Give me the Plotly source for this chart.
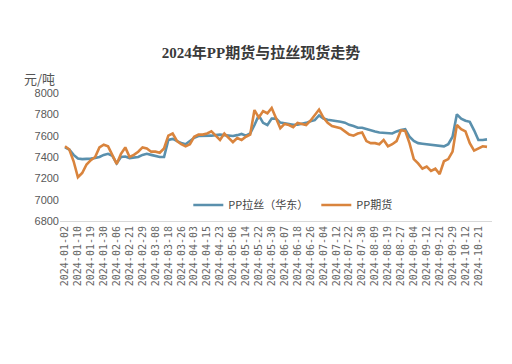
import plotly.graph_objects as go

dates = [
    "2024-01-02", "2024-01-04", "2024-01-08",
    "2024-01-10", "2024-01-12", "2024-01-16",
    "2024-01-19", "2024-01-23", "2024-01-25",
    "2024-01-30", "2024-02-01", "2024-02-05",
    "2024-02-06", "2024-02-08", "2024-02-19",
    "2024-02-21", "2024-02-23", "2024-02-27",
    "2024-02-29", "2024-03-04", "2024-03-06",
    "2024-03-08", "2024-03-12", "2024-03-14",
    "2024-03-18", "2024-03-20", "2024-03-22",
    "2024-03-26", "2024-03-28", "2024-04-01",
    "2024-04-03", "2024-04-09", "2024-04-11",
    "2024-04-15", "2024-04-17", "2024-04-19",
    "2024-04-23", "2024-04-25", "2024-04-29",
    "2024-05-06", "2024-05-08", "2024-05-10",
    "2024-05-14", "2024-05-16", "2024-05-20",
    "2024-05-22", "2024-05-24", "2024-05-28",
    "2024-05-30", "2024-06-03", "2024-06-05",
    "2024-06-07", "2024-06-12", "2024-06-14",
    "2024-06-18", "2024-06-20", "2024-06-24",
    "2024-06-26", "2024-06-28", "2024-07-02",
    "2024-07-04", "2024-07-08", "2024-07-10",
    "2024-07-12", "2024-07-16", "2024-07-18",
    "2024-07-22", "2024-07-24", "2024-07-26",
    "2024-07-30", "2024-08-01", "2024-08-05",
    "2024-08-09", "2024-08-13", "2024-08-15",
    "2024-08-19", "2024-08-21", "2024-08-23",
    "2024-08-27", "2024-08-29", "2024-09-02",
    "2024-09-04", "2024-09-06", "2024-09-10",
    "2024-09-12", "2024-09-14", "2024-09-19",
    "2024-09-21", "2024-09-24", "2024-09-26",
    "2024-09-29", "2024-10-08", "2024-10-10",
    "2024-10-12", "2024-10-15", "2024-10-17",
    "2024-10-21", "2024-10-23", "2024-10-25",
]

tick_labels = [
    "2024-01-02", "2024-01-10", "2024-01-19", "2024-01-30", "2024-02-06",
    "2024-02-21", "2024-02-29", "2024-03-08", "2024-03-18", "2024-03-26",
    "2024-04-03", "2024-04-15", "2024-04-23", "2024-05-06", "2024-05-14",
    "2024-05-22", "2024-05-30", "2024-06-07", "2024-06-18", "2024-06-26",
    "2024-07-04", "2024-07-12", "2024-07-22", "2024-07-30", "2024-08-09",
    "2024-08-19", "2024-08-27", "2024-09-04", "2024-09-12", "2024-09-21",
    "2024-09-29", "2024-10-12", "2024-10-21",
]

spot_east = [
    7490, 7470, 7420, 7385, 7380, 7380, 7385, 7390, 7400, 7420,
    7430, 7410, 7340, 7400, 7405, 7390, 7395, 7400, 7420, 7430,
    7420, 7410, 7400, 7400, 7560, 7570, 7550, 7530, 7520, 7550,
    7580, 7597, 7597, 7597, 7600, 7605, 7610, 7605, 7600, 7597,
    7605, 7616, 7600, 7620, 7700, 7790, 7720, 7700, 7760, 7760,
    7722, 7715, 7702, 7702, 7702, 7710, 7720, 7735, 7745, 7790,
    7760, 7750, 7745, 7741, 7730, 7722, 7702, 7690, 7674, 7674,
    7665, 7650, 7640, 7630, 7626, 7620, 7620, 7640, 7654, 7660,
    7590, 7550, 7530, 7525, 7520, 7520, 7515, 7510, 7500, 7520,
    7590, 7800, 7760, 7740, 7730, 7650, 7560, 7560, 7565,
]

futures = [
    7500, 7470, 7360, 7210, 7250, 7330, 7370, 7400, 7490, 7515,
    7500, 7420, 7335, 7430, 7490, 7400, 7420, 7450, 7490, 7480,
    7450, 7450, 7440, 7480, 7600, 7620, 7550, 7520, 7500, 7520,
    7590, 7610, 7610, 7620, 7640, 7600, 7560, 7620, 7580, 7540,
    7578, 7560, 7590, 7610, 7840, 7770, 7830, 7810, 7860, 7770,
    7670, 7710, 7700, 7680, 7720, 7710, 7700, 7740, 7790, 7845,
    7770, 7720, 7690, 7680, 7670, 7640, 7610, 7600, 7620, 7630,
    7549, 7530, 7530, 7520, 7560, 7500, 7520, 7549, 7650, 7645,
    7530, 7380, 7340, 7290, 7310, 7270, 7290, 7240, 7360, 7380,
    7450, 7700, 7660, 7640, 7530, 7460, 7480, 7500, 7495,
]

BLUE = "#5a90ad"
ORANGE = "#d9843d"

fig = go.Figure()
fig.add_trace(go.Scatter(
    x=dates, y=spot_east, mode="lines", name="PP拉丝（华东）",
    line=dict(color=BLUE, width=2.6),
))
fig.add_trace(go.Scatter(
    x=dates, y=futures, mode="lines", name="PP期货",
    line=dict(color=ORANGE, width=2.6),
))

fig.update_layout(
    width=512, height=364,
    margin=dict(l=60, r=20, t=93, b=143),
    paper_bgcolor="white", plot_bgcolor="white",
    title=dict(
        text="<b>2024年PP期货与拉丝现货走势</b>",
        x=261 / 512, xanchor="center", xref="container",
        y=1 - 53 / 364, yanchor="middle", yref="container",
        font=dict(family="Liberation Serif, Noto Sans CJK SC", size=15, color="#3a3a3a"),
    ),
    showlegend=True,
    legend=dict(
        orientation="h", x=0.297, xanchor="left", y=0.125, yanchor="middle",
        bgcolor="rgba(0,0,0,0)",
        font=dict(family="Noto Sans CJK SC", size=11, color="#444444"),
        entrywidth=83, entrywidthmode="pixels",
    ),
    annotations=[dict(
        text="元/吨", xref="paper", x=(39 - 60) / 432, yref="paper", y=(221 - 78) / 128,
        showarrow=False, xanchor="center", yanchor="middle",
        font=dict(family="Noto Sans CJK SC", size=13, color="#555555"),
    )],
)

fig.update_xaxes(
    type="category", range=[-1.16, 99.16],
    tickmode="array", tickvals=tick_labels, ticktext=tick_labels,
    tickangle=-90, showgrid=False, zeroline=False,
    showline=True, linecolor="#d9d9d9", linewidth=1, ticks="",
    tickfont=dict(family="DejaVu Sans Mono", size=10, color="#666666"),
)
fig.update_yaxes(
    range=[6800, 8000], dtick=200, showgrid=False, zeroline=False,
    showline=False, ticks="",
    tickfont=dict(family="Liberation Sans, Arial", size=11, color="#595959"),
)

fig.write_html(
    "out.html",
    config={"displayModeBar": False},
    post_script="document.body.style.margin='0px';",
)
